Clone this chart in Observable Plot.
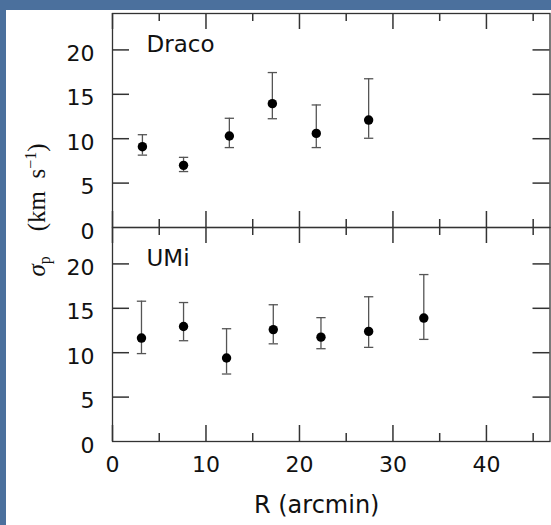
<!DOCTYPE html>
<html><head><meta charset="utf-8">
<script src="https://cdn.jsdelivr.net/npm/d3@7"></script>
<script src="https://cdn.jsdelivr.net/npm/@observablehq/plot@0.6"></script>
<style>
html,body{margin:0;padding:0;width:551px;height:525px;overflow:hidden;background:#4b709d;}
#panel{position:absolute;left:6px;top:10px;width:545px;height:515px;background:#fff;}
#chart{position:absolute;left:0;top:0;}
</style></head><body><div id="panel"></div><div id="chart"></div>
<script>
const panels = ["Draco", "UMi"];
const dracoR  = [3.2, 7.6, 12.5, 17.1, 21.8, 27.4];
const dracoS  = [9.1, 7.0, 10.3, 13.95, 10.6, 12.1];
const dracoLo = [8.15, 6.3, 9.0, 12.25, 9.0, 10.05];
const dracoHi = [10.45, 7.9, 12.3, 17.45, 13.8, 16.75];
const umiR  = [3.1, 7.6, 12.2, 17.2, 22.3, 27.4, 33.3];
const umiS  = [11.65, 12.95, 9.4, 12.6, 11.75, 12.4, 13.9];
const umiLo = [9.9, 11.35, 7.6, 11.0, 10.45, 10.6, 11.5];
const umiHi = [15.8, 15.65, 12.7, 15.4, 13.95, 16.3, 18.8];
const majorX = [0, 10, 20, 30, 40];
const minorX = [5, 15, 25, 35, 45];
const yTicks = [0, 5, 10, 15, 20];

const rows = [
  ...dracoR.map((r, i) => ({panel: "Draco", R: r, s: dracoS[i], lo: dracoLo[i], hi: dracoHi[i]})),
  ...umiR.map((r, i) => ({panel: "UMi", R: r, s: umiS[i], lo: umiLo[i], hi: umiHi[i]}))
];

const W = 551, H = 525, mL = 112, mR = 1.5, mT = 13, mB = 84;
const plotW = W - mL - mR;
const facetH = (H - mT - mB) / panels.length;
const majorLen = 16, minorLen = 8, yLen = 17;

const capSymbol = {draw(ctx, size) { const w = Math.sqrt(size / Math.PI); ctx.moveTo(-w, 0); ctx.lineTo(w, 0); }};
const tk = {stroke: "#333", strokeWidth: 1.5};

const chart = Plot.plot({
  width: W, height: H,
  marginLeft: mL, marginRight: mR, marginTop: mT, marginBottom: mB,
  style: {background: "transparent", fontFamily: "DejaVu Sans", fontSize: "22px", color: "#111"},
  x: {domain: [0, 46.8]},
  y: {domain: [0, 24.1]},
  fy: {domain: panels, padding: 0, axis: null, label: null},
  marks: [
    Plot.axisY(yTicks, {anchor: "left", tickSize: 0, tickPadding: 18, dy: 4, label: null, fontSize: 22}),
    Plot.axisX(majorX, {anchor: "bottom", tickSize: 0, tickPadding: 15, label: null, fontSize: 22}),
    Plot.ruleY(yTicks.slice(1), {y: d => d, insetRight: plotW - yLen, ...tk}),
    Plot.ruleY(yTicks.slice(1), {y: d => d, insetLeft: plotW - yLen, ...tk}),
    Plot.ruleX(majorX, {x: d => d, insetBottom: facetH - majorLen, ...tk}),
    Plot.ruleX(minorX, {x: d => d, insetBottom: facetH - minorLen, ...tk}),
    Plot.ruleX(majorX, {x: d => d, insetTop: facetH - majorLen, ...tk}),
    Plot.ruleX(minorX, {x: d => d, insetTop: facetH - minorLen, ...tk}),
    Plot.frame({stroke: "#333", strokeWidth: 1.3}),
    Plot.ruleX(rows, {x: "R", y1: "lo", y2: "hi", fy: "panel", stroke: "#555", strokeWidth: 1.3}),
    Plot.dot(rows, {x: "R", y: "lo", fy: "panel", symbol: capSymbol, r: 4.65, stroke: "#555", fill: "none", strokeWidth: 1.3}),
    Plot.dot(rows, {x: "R", y: "hi", fy: "panel", symbol: capSymbol, r: 4.65, stroke: "#555", fill: "none", strokeWidth: 1.3}),
    Plot.dot(rows, {x: "R", y: "s", fy: "panel", r: 4.7, fill: "#000", stroke: "none"}),
    Plot.text(panels, {fy: d => d, text: d => d, frameAnchor: "top-left", textAnchor: "start", lineAnchor: "middle", dx: 34, dy: 31, fontSize: 23, fill: "#111"})
  ]
});

const svg = d3.select(chart);
const yt = svg.append("text")
  .attr("transform", "translate(45,210) rotate(-90)")
  .attr("text-anchor", "middle")
  .attr("fill", "#111")
  .style("font-family", "'Liberation Serif', serif")
  .style("font-size", "25px");
yt.append("tspan").style("font-style", "italic").text("σ");
yt.append("tspan").attr("dy", 5).style("font-size", "16px").text("p");
yt.append("tspan").attr("dy", -5).text("\u2003(km\u2002s");
yt.append("tspan").attr("dy", -9).style("font-size", "16px").text("\u22121");
yt.append("tspan").attr("dy", 9).text(")");

svg.append("text")
  .attr("x", 316.7).attr("y", 513)
  .attr("text-anchor", "middle")
  .attr("fill", "#111")
  .style("font-family", "DejaVu Sans")
  .style("font-size", "24px")
  .text("R (arcmin)");

document.getElementById("chart").appendChild(chart);
</script>
</body></html>
